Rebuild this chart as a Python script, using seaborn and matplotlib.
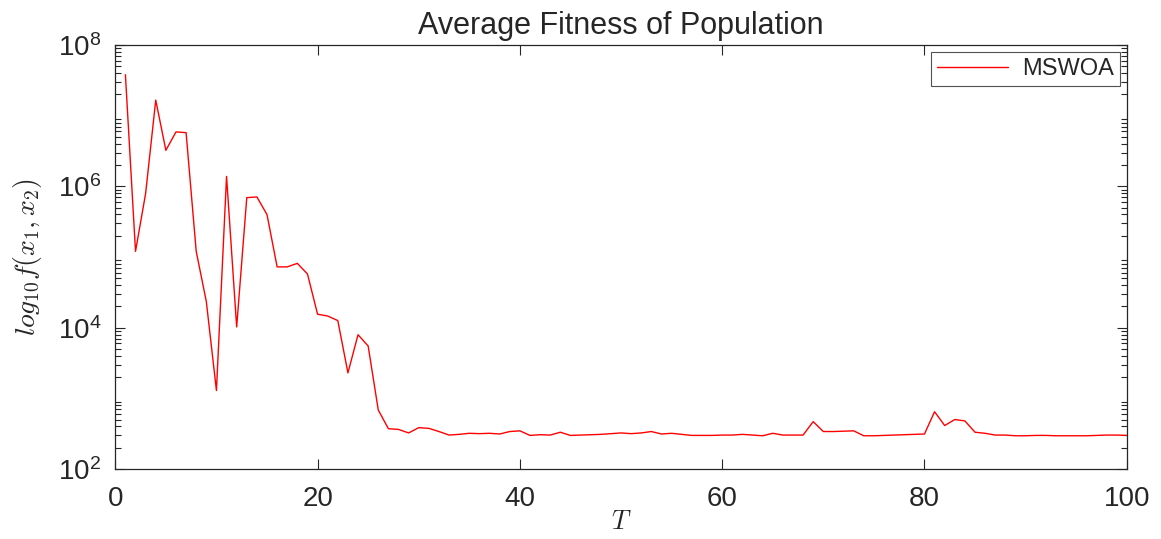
import numpy as np
import pandas as pd
import seaborn as sns
import matplotlib.pyplot as plt
from matplotlib.ticker import LogLocator, NullFormatter

# iteration number
T = list(range(1, 101))

# average fitness (log10 values)
log_fit_1_30 = [7.58, 5.08, 5.90, 7.22, 6.51, 6.77, 6.76, 5.08, 4.37, 3.11,
                6.14, 4.01, 5.84, 5.85, 5.60, 4.86, 4.86, 4.91, 4.76, 4.19,
                4.165, 4.10, 3.36, 3.90, 3.74, 2.835, 2.57, 2.56, 2.51, 2.585]
log_fit_31_60 = [2.575, 2.53, 2.48, 2.49, 2.505, 2.50, 2.505, 2.495, 2.53, 2.54,
                 2.475, 2.485, 2.48, 2.52, 2.475, 2.48, 2.485, 2.49, 2.50, 2.51,
                 2.50, 2.51, 2.53, 2.495, 2.505, 2.49, 2.475, 2.475, 2.475, 2.48]
log_fit_61_100 = [2.48, 2.49, 2.48, 2.47, 2.505, 2.48, 2.48, 2.48, 2.67, 2.53,
                  2.53, 2.535, 2.54, 2.47, 2.47, 2.475, 2.48, 2.485, 2.49, 2.495,
                  2.81, 2.615, 2.70, 2.68, 2.52, 2.505, 2.48, 2.48, 2.47, 2.47,
                  2.475, 2.475, 2.47, 2.47, 2.47, 2.47, 2.475, 2.48, 2.48, 2.475]

fitness = 10 ** np.array(log_fit_1_30 + log_fit_31_60 + log_fit_61_100)
df = pd.DataFrame({'T': T, 'fitness': fitness})

sns.set_style('white')
plt.rcParams['font.family'] = ['Liberation Sans', 'DejaVu Sans']
plt.rcParams['mathtext.fontset'] = 'cm'

fig = plt.figure(figsize=(11.61, 5.39), dpi=100)
ax = fig.add_axes([0.0993, 0.1299, 0.8712, 0.7866])

sns.lineplot(data=df, x='T', y='fitness', color='#ff0000', linewidth=1.0,
             label='MSWOA', ax=ax)

ax.set_yscale('log')
ax.set_xlim(0, 100)
ax.set_ylim(1e2, 1e8)
ax.set_xticks([0, 20, 40, 60, 80, 100])
ax.set_yticks([1e2, 1e4, 1e6, 1e8])
ax.yaxis.set_minor_locator(LogLocator(base=10, subs=np.arange(2, 10), numticks=20))
ax.yaxis.set_minor_formatter(NullFormatter())

ax.tick_params(which='both', direction='in', left=True, bottom=True, top=True,
               right=True, colors='#262626', width=0.8)
ax.tick_params(which='major', length=7, labelsize=20)
ax.tick_params(axis='y', which='major', pad=10)
ax.tick_params(axis='x', which='major', pad=12)
ax.tick_params(which='minor', length=4)
ax.tick_params(axis='x', which='minor', bottom=False, top=False)
for s in ax.spines.values():
    s.set_color('#262626')
    s.set_linewidth(0.9)

ax.set_title('Average Fitness of Population', fontsize=22, pad=8)
ax.set_xlabel('$T$', fontsize=19, labelpad=-1)
ax.set_ylabel('$log_{10}f(x_1,x_2)$', fontsize=20, labelpad=10)

leg = ax.legend(loc='upper right', fontsize=17, frameon=True, fancybox=False,
                borderaxespad=0.3, handlelength=3.0, borderpad=0.25,
                handletextpad=0.6)
leg.get_frame().set_edgecolor('#262626')
leg.get_frame().set_linewidth(0.8)

fig.savefig('out.png', dpi=100)
